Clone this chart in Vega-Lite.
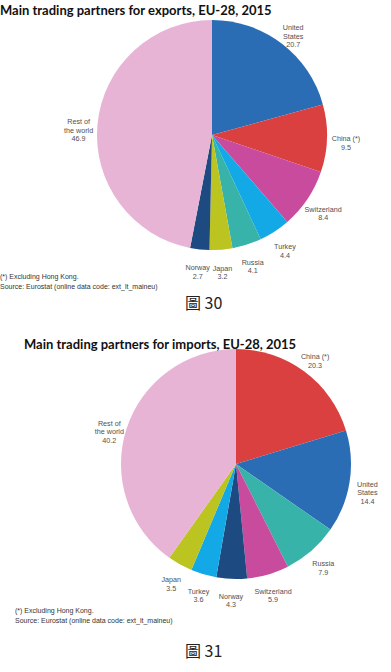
{
  "$schema": "https://vega.github.io/schema/vega-lite/v6.json",
  "padding": {"top": 5, "left": 0, "right": 0, "bottom": 0},
  "background": "white",
  "spacing": 26,
  "config": {
    "view": {"stroke": null},
    "concat": {"spacing": 0},
    "text": {"font": "Liberation Sans", "fontSize": 7.2, "color": "#505050", "lineBreak": "\n", "lineHeight": 8.5, "align": "center", "baseline": "middle"}
  },
  "datasets": {
    "exports": [
      {"rank": 1, "partner": "United States", "share": 20.7, "label": "United\nStates\n20.7"},
      {"rank": 2, "partner": "China (*)", "share": 9.5, "label": "China (*)\n9.5"},
      {"rank": 3, "partner": "Switzerland", "share": 8.4, "label": "Switzerland\n8.4"},
      {"rank": 4, "partner": "Turkey", "share": 4.4, "label": "Turkey\n4.4"},
      {"rank": 5, "partner": "Russia", "share": 4.1, "label": "Russia\n4.1"},
      {"rank": 6, "partner": "Japan", "share": 3.2, "label": "Japan\n3.2"},
      {"rank": 7, "partner": "Norway", "share": 2.7, "label": "Norway\n2.7"},
      {"rank": 8, "partner": "Rest of the world", "share": 46.9, "label": "Rest of\nthe world\n46.9"}
    ],
    "imports": [
      {"rank": 1, "partner": "China (*)", "share": 20.3, "label": "China (*)\n20.3"},
      {"rank": 2, "partner": "United States", "share": 14.4, "label": "United\nStates\n14.4"},
      {"rank": 3, "partner": "Russia", "share": 7.9, "label": "Russia\n7.9"},
      {"rank": 4, "partner": "Switzerland", "share": 5.9, "label": "Switzerland\n5.9"},
      {"rank": 5, "partner": "Norway", "share": 4.3, "label": "Norway\n4.3"},
      {"rank": 6, "partner": "Turkey", "share": 3.6, "label": "Turkey\n3.6"},
      {"rank": 7, "partner": "Japan", "share": 3.5, "label": "Japan\n3.5"},
      {"rank": 8, "partner": "Rest of the world", "share": 40.2, "label": "Rest of\nthe world\n40.2"}
    ]
  },
  "vconcat": [
    {
      "title": {"text": "圖 30", "orient": "bottom", "anchor": "start", "frame": "group", "font": "Noto Sans CJK TC", "fontSize": 16, "fontWeight": "normal", "color": "#222222", "offset": 6, "dx": 185},
      "vconcat": [
        {
          "title": {"text": ["(*) Excluding Hong Kong.", "Source:  Eurostat (online data code: ext_lt_maineu)"], "orient": "bottom", "anchor": "start", "frame": "group", "font": "Liberation Sans", "fontSize": 7, "fontWeight": "normal", "color": "#333333", "lineHeight": 10, "offset": -7, "dx": 0},
          "vconcat": [
            {
              "width": 424,
              "height": 240,
              "title": {"text": "Main trading partners for exports, EU-28, 2015", "anchor": "start", "frame": "group", "font": "Lato", "fontSize": 13, "fontWeight": "bold", "color": "#111111", "offset": -3},
              "data": {"name": "exports"},
              "encoding": {
                "theta": {"field": "share", "type": "quantitative", "stack": true},
                "order": {"field": "rank", "type": "quantitative"},
                "color": {
                  "field": "partner", "type": "nominal", "legend": null,
                  "scale": {
                    "domain": ["United States", "China (*)", "Switzerland", "Turkey", "Russia", "Japan", "Norway", "Rest of the world"],
                    "range": ["#2a6db5", "#d9403f", "#c84b9e", "#12a9e6", "#38b3aa", "#bbc421", "#1d4a80", "#e8b4d5"]
                  }
                }
              },
              "layer": [
                {"mark": {"type": "arc", "outerRadius": 115}},
                {"mark": {"type": "text", "radius": 134}, "encoding": {"text": {"field": "label", "type": "nominal"}, "color": {"value": "#505050"}}}
              ]
            }
          ]
        }
      ]
    },
    {
      "title": {"text": "圖 31", "orient": "bottom", "anchor": "start", "frame": "group", "font": "Noto Sans CJK TC", "fontSize": 16, "fontWeight": "normal", "color": "#222222", "offset": 20, "dx": 185},
      "vconcat": [
        {
          "title": {"text": ["(*) Excluding Hong Kong.", "Source:  Eurostat (online data code: ext_lt_maineu)"], "orient": "bottom", "anchor": "start", "frame": "group", "font": "Liberation Sans", "fontSize": 7, "fontWeight": "normal", "color": "#333333", "lineHeight": 10, "offset": -2, "dx": 15},
          "vconcat": [
            {
              "width": 472,
              "height": 230,
              "title": {"text": "Main trading partners for imports, EU-28, 2015", "anchor": "start", "frame": "group", "font": "Lato", "fontSize": 13, "fontWeight": "bold", "color": "#111111", "offset": -3, "dx": 24},
              "data": {"name": "imports"},
              "encoding": {
                "theta": {"field": "share", "type": "quantitative", "stack": true},
                "order": {"field": "rank", "type": "quantitative"},
                "color": {"field": "partner", "type": "nominal", "legend": null}
              },
              "layer": [
                {"mark": {"type": "arc", "outerRadius": 115}},
                {"mark": {"type": "text", "radius": 133}, "encoding": {"text": {"field": "label", "type": "nominal"}, "color": {"value": "#505050"}}}
              ]
            }
          ]
        }
      ]
    }
  ]
}
